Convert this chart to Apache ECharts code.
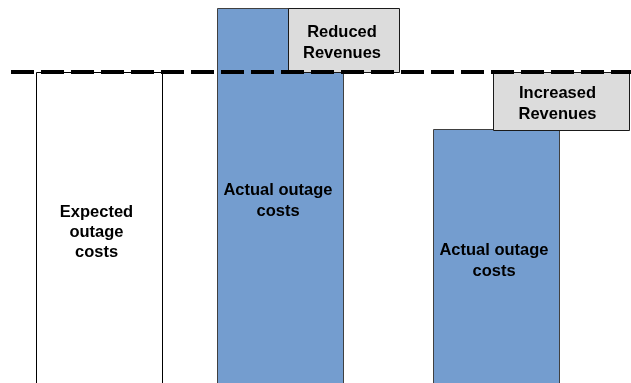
<!DOCTYPE html>
<html>
<head>
<meta charset="utf-8">
<script src="https://cdn.jsdelivr.net/npm/echarts@6/dist/echarts.min.js"></script>
<style>
  html, body { margin: 0; padding: 0; background: #ffffff; }
  #chart { width: 631px; height: 383px; }
</style>
</head>
<body>
<div id="chart"></div>
<script>
// Outage costs: expected level vs. actual costs in two scenarios
const categories = ['Expected\noutage\ncosts', 'Actual outage\ncosts', 'Actual outage\ncosts'];
const outageCosts = [100, 120.5, 81.5];
const expectedCost = 100;
const revenueLabels = ['', 'Reduced\nRevenues', 'Increased\nRevenues'];

// Layout (px): shift of each bar from its category centre, bar width,
// and the revenue box placement relative to the bar centre.
const barShift = [-15, -41, -32];
const barWidth = 126;
const boxLeft = [0, 8, -3];
const boxWidth = [0, 111, 136];
const barFill = ['#ffffff', '#749dcf', '#749dcf'];
const barStroke = ['#000000', '#404040', '#404040'];
const barLabelShift = [[-3, 2], [-2.5, 3], [-2.5, 3]];
const barLabelLineHeight = [20, 21, 21];
const boxLabelShift = [[0, 0], [-2, 2], [-4, 2]];
const labelFont = 'bold 16.5px "Liberation Sans", Arial, sans-serif';

function renderItem(params, api) {
  const i = api.value(0);
  const cost = api.value(1);
  const base = api.coord([i, 0]);
  const top = api.coord([i, cost]);
  const ref = api.coord([i, expectedCost]);
  const cx = base[0] + barShift[i];
  const x0 = Math.round(cx - barWidth / 2) + 0.5;
  const children = [{
    type: 'rect',
    shape: { x: x0, y: Math.round(top[1]) + 0.5, width: barWidth, height: base[1] - top[1] + 4 },
    style: { fill: barFill[i], stroke: barStroke[i], lineWidth: 1 },
    textContent: {
      style: { text: categories[i], font: labelFont, fill: '#000000', align: 'center', lineHeight: barLabelLineHeight[i] }
    },
    textConfig: { position: 'inside', offset: barLabelShift[i] }
  }];
  if (revenueLabels[i]) {
    const y0 = Math.min(top[1], ref[1]);
    const y1 = Math.max(top[1], ref[1]);
    children.push({
      type: 'rect',
      shape: { x: Math.round(cx + boxLeft[i]) + 0.5, y: Math.round(y0) + 0.5, width: boxWidth[i], height: Math.round(y1 - y0) },
      style: { fill: '#dcdcdc', stroke: '#1a1a1a', lineWidth: 1 },
      textContent: {
        style: { text: revenueLabels[i], font: labelFont, fill: '#000000', align: 'center', lineHeight: 21 }
      },
      textConfig: { position: 'inside', offset: boxLabelShift[i] }
    });
  }
  return { type: 'group', children: children };
}

const chart = echarts.init(document.getElementById('chart'), null, { renderer: 'canvas' });
chart.setOption({
  animation: false,
  backgroundColor: '#ffffff',
  grid: { left: 11, right: 0, top: 0, bottom: 0 },
  xAxis: { type: 'category', data: categories, show: false },
  yAxis: { type: 'value', min: 0, max: 123, show: false },
  series: [{
    type: 'custom',
    renderItem: renderItem,
    data: outageCosts.map((v, i) => [i, v]),
    markLine: {
      silent: true,
      symbol: 'none',
      label: { show: false },
      lineStyle: { color: '#000000', width: 4, type: [23, 7], opacity: 1 },
      data: [{ yAxis: expectedCost }],
      z: 10
    }
  }]
});
</script>
</body>
</html>
